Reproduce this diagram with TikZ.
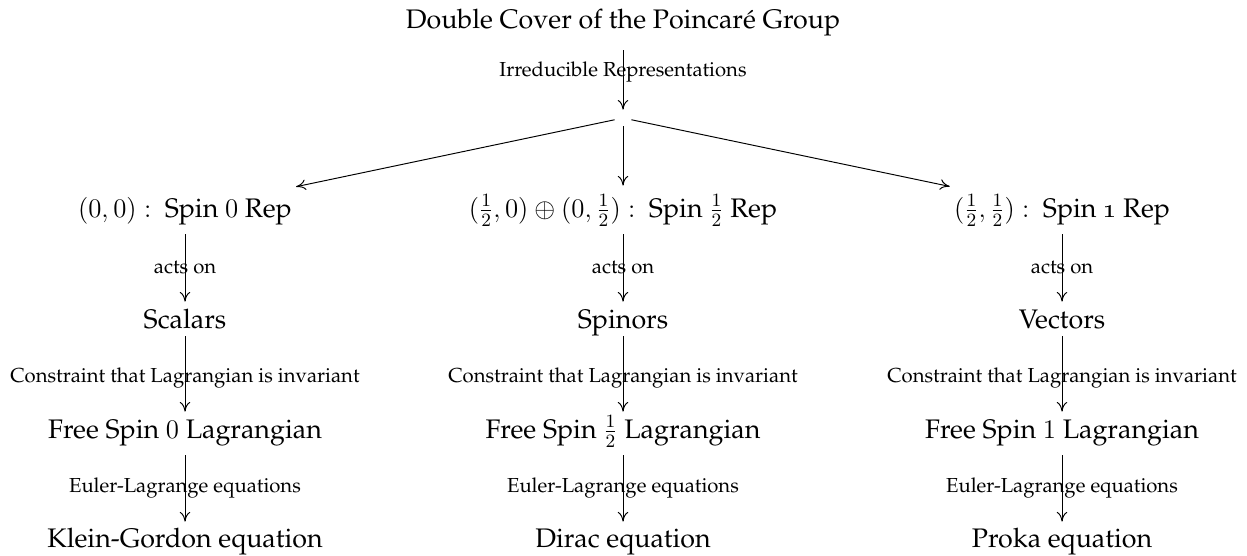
\documentclass[tikz,border=0pt]{standalone}
\usepackage[T1]{fontenc}
\renewcommand{\rmdefault}{ppl}
\usepackage{fix-cm}
\usetikzlibrary{arrows.meta}
\newcommand{\px}{0.5181pt}
\tikzset{
  arr/.style={line width=0.5pt,-{Computer Modern Rightarrow[length=5pt,width=5.5pt]}},
  lbl/.style={font=\fontsize{10.5pt}{12pt}\selectfont,inner sep=0pt},
  mainf/.style={font=\fontsize{13.9pt}{16pt}\selectfont,anchor=base,inner xsep=2pt,inner ysep=0pt},
  rowA/.style={mainf,text height=7pt,text depth=11.4pt},
  rowB/.style={mainf,text height=16.1pt,text depth=8.8pt},
  rowC/.style={mainf,text height=13.5pt,text depth=4.1pt},
  rowD/.style={mainf,text height=13.5pt,text depth=8.8pt},
  rowE/.style={mainf,text height=13pt,text depth=4pt},
  hubst/.style={inner sep=0pt,minimum width=16*\px,minimum height=16*\px}
}
\begin{document}
\begin{tikzpicture}[x=\px,y=-\px]
\useasboundingbox (0,0) rectangle (1247,555);
% row 1
\node[rowA] (top) at (623,28) {Double Cover of the Poincar\'e Group};
\node[hubst] (hub) at (623,118) {};
% row 2
\node[rowB] (r0) at (185,217) {$(0,0) :\ $ Spin $0$ Rep};
\node[rowB] (rh) at (623,217) {$(\frac{1}{2},0)\oplus(0,\frac{1}{2}) :\ $ Spin $\frac{1}{2}$ Rep};
\node[rowB] (r1) at (1062,217) {$(\frac{1}{2},\frac{1}{2}) :\ $ Spin \oldstylenums{1} Rep};
% row 3
\node[rowC] (s0) at (185,328) {Scalars};
\node[rowC] (sh) at (623,328) {Spinors};
\node[rowC] (s1) at (1062,328) {Vectors};
% row 4
\node[rowD] (l0) at (185,438) {Free Spin $0$ Lagrangian};
\node[rowD] (lh) at (623,438) {Free Spin $\frac{1}{2}$ Lagrangian};
\node[rowD] (l1) at (1062,438) {Free Spin $1$ Lagrangian};
% row 5
\node[rowE] (e0) at (185,547) {Klein-Gordon equation};
\node[rowE] (eh) at (623,547) {Dirac equation};
\node[rowE] (e1) at (1062,547) {Proka equation};
% arrows
\draw[arr] (top) -- (hub) node[lbl,pos=0.37] {Irreducible Representations};
\draw[arr] (hub) -- (r0);
\draw[arr] (hub) -- (rh);
\draw[arr] (hub) -- (r1);
\foreach \c in {0,h,1}{
  \draw[arr] (r\c) -- (s\c) node[lbl,midway] {acts on};
  \draw[arr] (s\c) -- (l\c) node[lbl,pos=0.55] {Constraint that Lagrangian is invariant};
  \draw[arr] (l\c) -- (e\c) node[lbl,midway] {Euler-Lagrange equations};
}
\end{tikzpicture}
\end{document}
